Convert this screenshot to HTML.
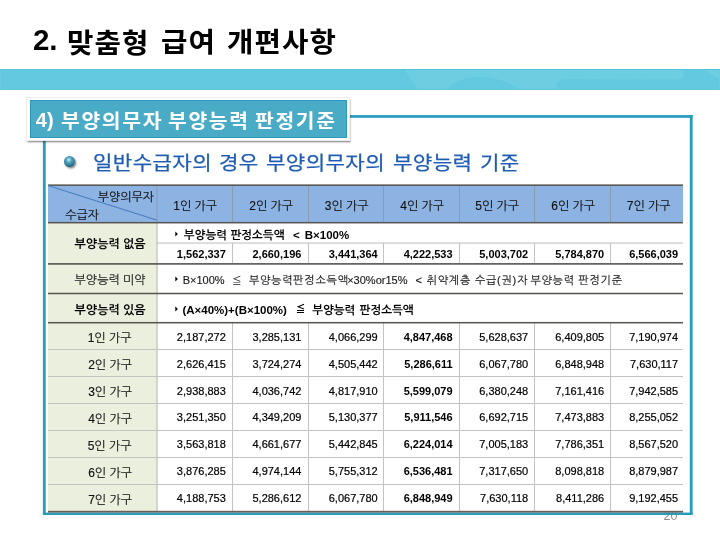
<!DOCTYPE html>
<html lang="ko"><head><meta charset="utf-8"><title>맞춤형 급여 개편사항</title>
<style>
*{margin:0;padding:0;box-sizing:border-box}
html,body{width:720px;height:540px;overflow:hidden;background:#fff}
body{position:relative;font-family:'Liberation Sans','Noto Sans CJK KR',sans-serif}
.ab{position:absolute}
.t{position:absolute;white-space:nowrap;line-height:1}
.n{position:absolute;white-space:nowrap;line-height:1;text-align:right;font-family:'Liberation Sans',sans-serif;font-size:11px;color:#000;-webkit-text-stroke:0.2px #000}
.s{-webkit-text-stroke:0.15px currentColor}
</style></head><body>

<svg class="ab" style="left:0;top:68.8px" width="720" height="20.8" viewBox="0 0 720 20.8"><rect x="0" y="0" width="720" height="20.8" fill="#63C9E0"/><path d="M404,0 C408,6 412,14 420,20.8 L446,20.8 C455,12 466,7.7 480,7.7 C495,7.7 510,13 519,20.8 L557,20.8 C556,14 557,10.5 566,10.2 L676,10.6 C684,10.6 686,5 683,0 Z" fill="#6DCEE2"/><path d="M703,0 L720,0 L720,11 Z" fill="#6DCEE2"/><rect x="0" y="0" width="720" height="1" fill="#52C3DC"/><rect x="0" y="19.8" width="720" height="1" fill="#5AC6DE"/></svg>
<div class="t" style="left:663.5px;top:509.5px;font-family:'Liberation Sans',sans-serif;font-size:12.5px;color:#8E8E8E">20</div>
<svg class="ab" style="left:0;top:0" width="720" height="540" viewBox="0 0 720 540"><rect x="42.9" y="115.1" width="649.7" height="2.7" fill="#279CBB"/><rect x="42.9" y="115.1" width="2.8" height="399.9" fill="#279CBB"/><rect x="689.8" y="115.1" width="2.8" height="399.9" fill="#279CBB"/><rect x="42.9" y="512.6" width="649.7" height="2.4" fill="#279CBB"/></svg>
<div class="ab" style="left:25.5px;top:96.8px;width:324.6px;height:44px;background:#fff;border:1px solid #ececec;box-shadow:1.2px 1.6px 1.6px rgba(0,0,0,0.38)"></div>
<div class="ab" style="left:29.9px;top:99.8px;width:317.3px;height:38.2px;background:#4AABC6;border:1px solid #2E9BBE"></div>
<div class="ab" style="left:64.2px;top:156.1px;width:11.3px;height:11.3px;border-radius:50%;background:radial-gradient(circle 7.8px at 4.8px 3.9px,#d4f8fc 0%,#8ad4e4 14%,#4f9fb8 38%,#3a8aa4 60%,#246d86 80%,#133e50 100%);box-shadow:1.4px 1.6px 1.8px rgba(0,0,0,0.45)"></div>
<div class="ab" style="left:48.00px;top:185.00px;width:635.00px;height:37.50px;background:#8DB3E2"></div>
<div class="ab" style="left:48.00px;top:223.00px;width:109.00px;height:288.00px;background:#EBEFDD"></div>
<svg class="ab" style="left:0;top:0" width="720" height="540" viewBox="0 0 720 540"><rect x="156.50" y="185.00" width="1.00" height="37.50" fill="#8A9BB3"/><rect x="232.00" y="185.00" width="1.00" height="37.50" fill="#8A9BB3"/><rect x="308.00" y="185.00" width="1.00" height="37.50" fill="#8A9BB3"/><rect x="383.00" y="185.00" width="1.00" height="37.50" fill="#8A9BB3"/><rect x="459.00" y="185.00" width="1.00" height="37.50" fill="#8A9BB3"/><rect x="534.00" y="185.00" width="1.00" height="37.50" fill="#8A9BB3"/><rect x="610.00" y="185.00" width="1.00" height="37.50" fill="#8A9BB3"/><rect x="156.30" y="223.00" width="1.40" height="288.00" fill="#C5C9BA"/><rect x="232.00" y="243.00" width="1.00" height="20.00" fill="#C3C3C3"/><rect x="232.00" y="323.00" width="1.00" height="188.00" fill="#C3C3C3"/><rect x="308.00" y="243.00" width="1.00" height="20.00" fill="#C3C3C3"/><rect x="308.00" y="323.00" width="1.00" height="188.00" fill="#C3C3C3"/><rect x="383.00" y="243.00" width="1.00" height="20.00" fill="#C3C3C3"/><rect x="383.00" y="323.00" width="1.00" height="188.00" fill="#C3C3C3"/><rect x="459.00" y="243.00" width="1.00" height="20.00" fill="#C3C3C3"/><rect x="459.00" y="323.00" width="1.00" height="188.00" fill="#C3C3C3"/><rect x="534.00" y="243.00" width="1.00" height="20.00" fill="#C3C3C3"/><rect x="534.00" y="323.00" width="1.00" height="188.00" fill="#C3C3C3"/><rect x="610.00" y="243.00" width="1.00" height="20.00" fill="#C3C3C3"/><rect x="610.00" y="323.00" width="1.00" height="188.00" fill="#C3C3C3"/><rect x="157.00" y="242.50" width="526.00" height="1.10" fill="#C3C3C3"/><rect x="48.00" y="349.00" width="635.00" height="1.00" fill="#C3C3C3"/><rect x="48.00" y="376.00" width="635.00" height="1.00" fill="#C3C3C3"/><rect x="48.00" y="403.00" width="635.00" height="1.00" fill="#C3C3C3"/><rect x="48.00" y="430.00" width="635.00" height="1.00" fill="#C3C3C3"/><rect x="48.00" y="457.00" width="635.00" height="1.00" fill="#C3C3C3"/><rect x="48.00" y="484.00" width="635.00" height="1.00" fill="#C3C3C3"/><rect x="48.00" y="184.40" width="635.00" height="1.50" fill="#57534F"/><rect x="48.00" y="221.95" width="635.00" height="1.50" fill="#57534F"/><rect x="48.00" y="263.10" width="635.00" height="1.60" fill="#57534F"/><rect x="48.00" y="292.75" width="635.00" height="1.50" fill="#57534F"/><rect x="48.00" y="321.95" width="635.00" height="1.50" fill="#57534F"/><rect x="48.00" y="510.80" width="635.00" height="1.80" fill="#6E5E59"/></svg>
<div class="ab" style="left:48.00px;top:185.20px;width:113.54px;height:1.3px;background:#4A7EC0;transform-origin:0 0;transform:rotate(17.637deg)"></div>
<div class="t" style="left:32.90px;top:24.70px;font-family:'Liberation Sans','Noto Sans CJK KR',sans-serif;font-size:29.5px;font-weight:700;color:#000">2.</div>
<div class="t" style="left:67.00px;top:30.00px;font-family:'Liberation Sans','Noto Sans CJK KR',sans-serif;font-size:27.5px;font-weight:700;letter-spacing:1.0px;transform:scaleX(1.045);transform-origin:0 0;color:#000">맞춤형</div>
<div class="t" style="left:160.90px;top:28.50px;font-family:'Liberation Sans','Noto Sans CJK KR',sans-serif;font-size:27.5px;font-weight:700;letter-spacing:1.0px;transform:scaleX(1.045);transform-origin:0 0;color:#000">급여</div>
<div class="t" style="left:226.90px;top:29.40px;font-family:'Liberation Sans','Noto Sans CJK KR',sans-serif;font-size:27.5px;font-weight:700;letter-spacing:1.0px;transform:scaleX(1.045);transform-origin:0 0;color:#000">개편사항</div>
<div class="t" style="left:35.80px;top:109.80px;font-family:'Liberation Sans','Noto Sans CJK KR',sans-serif;font-size:20px;font-weight:700;color:#fff">4)</div>
<div class="t" style="left:61.20px;top:112.10px;font-family:'Liberation Sans','Noto Sans CJK KR',sans-serif;font-size:19.5px;font-weight:700;letter-spacing:1.6px;transform:scaleX(1.045);transform-origin:0 0;color:#fff">부양의무자</div>
<div class="t" style="left:168.00px;top:112.10px;font-family:'Liberation Sans','Noto Sans CJK KR',sans-serif;font-size:19.5px;font-weight:700;letter-spacing:1.6px;transform:scaleX(1.045);transform-origin:0 0;color:#fff">부양능력</div>
<div class="t" style="left:255.30px;top:112.10px;font-family:'Liberation Sans','Noto Sans CJK KR',sans-serif;font-size:19.5px;font-weight:700;letter-spacing:1.6px;transform:scaleX(1.045);transform-origin:0 0;color:#fff">판정기준</div>
<div class="t" style="left:92.50px;top:155.00px;font-family:'Liberation Sans','Noto Sans CJK KR',sans-serif;font-size:18.9px;font-weight:400;letter-spacing:0.33px;transform:scaleX(1.12);transform-origin:0 0;-webkit-text-stroke:0.25px currentColor;color:#1F5DB4">일반수급자의</div>
<div class="t" style="left:219.00px;top:155.30px;font-family:'Liberation Sans','Noto Sans CJK KR',sans-serif;font-size:18.9px;font-weight:400;letter-spacing:0.33px;transform:scaleX(1.12);transform-origin:0 0;-webkit-text-stroke:0.25px currentColor;color:#1F5DB4">경우</div>
<div class="t" style="left:265.70px;top:155.00px;font-family:'Liberation Sans','Noto Sans CJK KR',sans-serif;font-size:18.9px;font-weight:400;letter-spacing:0.33px;transform:scaleX(1.12);transform-origin:0 0;-webkit-text-stroke:0.25px currentColor;color:#1F5DB4">부양의무자의</div>
<div class="t" style="left:393.40px;top:155.00px;font-family:'Liberation Sans','Noto Sans CJK KR',sans-serif;font-size:18.9px;font-weight:400;letter-spacing:0.33px;transform:scaleX(1.12);transform-origin:0 0;-webkit-text-stroke:0.25px currentColor;color:#1F5DB4">부양능력</div>
<div class="t" style="left:480.00px;top:155.00px;font-family:'Liberation Sans','Noto Sans CJK KR',sans-serif;font-size:18.9px;font-weight:400;letter-spacing:0.33px;transform:scaleX(1.12);transform-origin:0 0;-webkit-text-stroke:0.25px currentColor;color:#1F5DB4">기준</div>
<div class="t" style="left:97.70px;top:190.90px;font-family:'Liberation Sans','NanumGothic','Noto Sans CJK KR',sans-serif;font-size:12px;font-weight:400;-webkit-text-stroke:0.15px currentColor;color:#111">부양의무자</div>
<div class="t" style="left:65.30px;top:208.90px;font-family:'Liberation Sans','NanumGothic','Noto Sans CJK KR',sans-serif;font-size:12px;font-weight:400;-webkit-text-stroke:0.15px currentColor;color:#111">수급자</div>
<div class="t" style="left:173.25px;top:200.20px;font-family:'Liberation Sans','NanumGothic','Noto Sans CJK KR',sans-serif;font-size:12px;font-weight:400;-webkit-text-stroke:0.15px currentColor;color:#111">1인 가구</div>
<div class="t" style="left:249.25px;top:200.20px;font-family:'Liberation Sans','NanumGothic','Noto Sans CJK KR',sans-serif;font-size:12px;font-weight:400;-webkit-text-stroke:0.15px currentColor;color:#111">2인 가구</div>
<div class="t" style="left:324.75px;top:200.20px;font-family:'Liberation Sans','NanumGothic','Noto Sans CJK KR',sans-serif;font-size:12px;font-weight:400;-webkit-text-stroke:0.15px currentColor;color:#111">3인 가구</div>
<div class="t" style="left:400.25px;top:200.20px;font-family:'Liberation Sans','NanumGothic','Noto Sans CJK KR',sans-serif;font-size:12px;font-weight:400;-webkit-text-stroke:0.15px currentColor;color:#111">4인 가구</div>
<div class="t" style="left:475.25px;top:200.20px;font-family:'Liberation Sans','NanumGothic','Noto Sans CJK KR',sans-serif;font-size:12px;font-weight:400;-webkit-text-stroke:0.15px currentColor;color:#111">5인 가구</div>
<div class="t" style="left:551.25px;top:200.20px;font-family:'Liberation Sans','NanumGothic','Noto Sans CJK KR',sans-serif;font-size:12px;font-weight:400;-webkit-text-stroke:0.15px currentColor;color:#111">6인 가구</div>
<div class="t" style="left:626.75px;top:200.20px;font-family:'Liberation Sans','NanumGothic','Noto Sans CJK KR',sans-serif;font-size:12px;font-weight:400;-webkit-text-stroke:0.15px currentColor;color:#111">7인 가구</div>
<div class="t" style="left:74.60px;top:238.20px;font-family:'Liberation Sans','NanumGothic','Noto Sans CJK KR',sans-serif;font-size:12px;font-weight:700;color:#000">부양능력 없음</div>
<div class="t" style="left:74.60px;top:274.00px;font-family:'Liberation Sans','NanumGothic','Noto Sans CJK KR',sans-serif;font-size:12px;font-weight:400;-webkit-text-stroke:0.15px currentColor;color:#222">부양능력 미약</div>
<div class="t" style="left:74.60px;top:303.90px;font-family:'Liberation Sans','NanumGothic','Noto Sans CJK KR',sans-serif;font-size:12px;font-weight:700;color:#000">부양능력 있음</div>
<div class="t" style="left:87.70px;top:332.20px;font-family:'Liberation Sans','NanumGothic','Noto Sans CJK KR',sans-serif;font-size:12px;font-weight:400;-webkit-text-stroke:0.15px currentColor;color:#111">1인 가구</div>
<div class="t" style="left:88.20px;top:359.10px;font-family:'Liberation Sans','NanumGothic','Noto Sans CJK KR',sans-serif;font-size:12px;font-weight:400;-webkit-text-stroke:0.15px currentColor;color:#111">2인 가구</div>
<div class="t" style="left:88.20px;top:386.00px;font-family:'Liberation Sans','NanumGothic','Noto Sans CJK KR',sans-serif;font-size:12px;font-weight:400;-webkit-text-stroke:0.15px currentColor;color:#111">3인 가구</div>
<div class="t" style="left:88.20px;top:412.90px;font-family:'Liberation Sans','NanumGothic','Noto Sans CJK KR',sans-serif;font-size:12px;font-weight:400;-webkit-text-stroke:0.15px currentColor;color:#111">4인 가구</div>
<div class="t" style="left:87.70px;top:439.80px;font-family:'Liberation Sans','NanumGothic','Noto Sans CJK KR',sans-serif;font-size:12px;font-weight:400;-webkit-text-stroke:0.15px currentColor;color:#111">5인 가구</div>
<div class="t" style="left:88.20px;top:466.70px;font-family:'Liberation Sans','NanumGothic','Noto Sans CJK KR',sans-serif;font-size:12px;font-weight:400;-webkit-text-stroke:0.15px currentColor;color:#111">6인 가구</div>
<div class="t" style="left:88.20px;top:493.60px;font-family:'Liberation Sans','NanumGothic','Noto Sans CJK KR',sans-serif;font-size:12px;font-weight:400;-webkit-text-stroke:0.15px currentColor;color:#111">7인 가구</div>
<div class="t" style="left:183.80px;top:229.90px;font-family:'Liberation Sans','NanumGothic','Noto Sans CJK KR',sans-serif;font-size:11.5px;font-weight:700;color:#000">부양능력</div>
<div class="t" style="left:230.40px;top:229.90px;font-family:'Liberation Sans','NanumGothic','Noto Sans CJK KR',sans-serif;font-size:11.5px;font-weight:700;color:#000">판정소득액</div>
<div class="t" style="left:293.00px;top:229.90px;font-family:'Liberation Sans',sans-serif;font-size:11.5px;font-weight:700;color:#000">&lt;</div>
<div class="t" style="left:304.80px;top:229.90px;font-family:'Liberation Sans',sans-serif;font-size:11.5px;font-weight:700;color:#000">B×100%</div>
<div class="t" style="left:248.90px;top:275.20px;font-family:'Liberation Sans','NanumGothic','Noto Sans CJK KR',sans-serif;font-size:11px;font-weight:400;letter-spacing:0.75px;-webkit-text-stroke:0.15px currentColor;color:#1a1a1a">부양능력판정소득액</div>
<div class="t" style="left:347.20px;top:275.20px;font-family:'Liberation Sans',sans-serif;font-size:11px;font-weight:400;-webkit-text-stroke:0.15px currentColor;color:#1a1a1a">×30%or15%</div>
<div class="t" style="left:182.70px;top:275.20px;font-family:'Liberation Sans',sans-serif;font-size:11px;font-weight:400;-webkit-text-stroke:0.15px currentColor;color:#1a1a1a">B×100%</div>
<div class="t" style="left:232.00px;top:275.50px;font-family:'Liberation Sans','Noto Sans CJK KR',sans-serif;font-size:9.5px;font-weight:400;color:#1a1a1a">≦</div>
<div class="t" style="left:415.60px;top:275.20px;font-family:'Liberation Sans',sans-serif;font-size:11px;font-weight:400;-webkit-text-stroke:0.15px currentColor;color:#1a1a1a">&lt;</div>
<div class="t" style="left:426.70px;top:275.20px;font-family:'Liberation Sans','NanumGothic','Noto Sans CJK KR',sans-serif;font-size:11px;font-weight:400;letter-spacing:0.75px;-webkit-text-stroke:0.15px currentColor;color:#1a1a1a">취약계층</div>
<div class="t" style="left:474.90px;top:275.20px;font-family:'Liberation Sans','NanumGothic','Noto Sans CJK KR',sans-serif;font-size:11px;font-weight:400;letter-spacing:0.75px;-webkit-text-stroke:0.15px currentColor;color:#1a1a1a">수급(권)자</div>
<div class="t" style="left:530.40px;top:275.20px;font-family:'Liberation Sans','NanumGothic','Noto Sans CJK KR',sans-serif;font-size:11px;font-weight:400;letter-spacing:0.75px;-webkit-text-stroke:0.15px currentColor;color:#1a1a1a">부양능력</div>
<div class="t" style="left:578.40px;top:275.20px;font-family:'Liberation Sans','NanumGothic','Noto Sans CJK KR',sans-serif;font-size:11px;font-weight:400;letter-spacing:0.75px;-webkit-text-stroke:0.15px currentColor;color:#1a1a1a">판정기준</div>
<div class="t" style="left:312.20px;top:304.50px;font-family:'Liberation Sans','NanumGothic','Noto Sans CJK KR',sans-serif;font-size:11.5px;font-weight:700;color:#000">부양능력</div>
<div class="t" style="left:182.40px;top:304.50px;font-family:'Liberation Sans',sans-serif;font-size:11.5px;font-weight:700;color:#000">(A×40%)+(B×100%)</div>
<div class="t" style="left:295.70px;top:304.00px;font-family:'Liberation Sans','Noto Sans CJK KR',sans-serif;font-size:9.5px;font-weight:700;color:#000">≦</div>
<div class="t" style="left:359.60px;top:304.50px;font-family:'Liberation Sans','NanumGothic','Noto Sans CJK KR',sans-serif;font-size:11.5px;font-weight:700;color:#000">판정소득액</div>
<svg class="ab" style="left:175px;top:230.60px" width="4" height="6" viewBox="0 0 4 6"><path d="M0.3,0.6 L2.9,3 L0.3,5.4 Z" fill="#000"/></svg>
<svg class="ab" style="left:175px;top:276.30px" width="4" height="6" viewBox="0 0 4 6"><path d="M0.3,0.6 L2.9,3 L0.3,5.4 Z" fill="#000"/></svg>
<svg class="ab" style="left:175px;top:305.80px" width="4" height="6" viewBox="0 0 4 6"><path d="M0.3,0.6 L2.9,3 L0.3,5.4 Z" fill="#000"/></svg>
<div class="n" style="left:155.80px;top:249.10px;width:70px;font-weight:700;color:#000;-webkit-text-stroke:0">1,562,337</div>
<div class="n" style="left:231.40px;top:249.10px;width:70px;font-weight:700;color:#000;-webkit-text-stroke:0">2,660,196</div>
<div class="n" style="left:307.70px;top:249.10px;width:70px;font-weight:700;color:#000;-webkit-text-stroke:0">3,441,364</div>
<div class="n" style="left:382.60px;top:249.10px;width:70px;font-weight:700;color:#000;-webkit-text-stroke:0">4,222,533</div>
<div class="n" style="left:458.20px;top:249.10px;width:70px;font-weight:700;color:#000;-webkit-text-stroke:0">5,003,702</div>
<div class="n" style="left:534.20px;top:249.10px;width:70px;font-weight:700;color:#000;-webkit-text-stroke:0">5,784,870</div>
<div class="n" style="left:608.10px;top:249.10px;width:70px;font-weight:700;color:#000;-webkit-text-stroke:0">6,566,039</div>
<div class="n" style="left:155.80px;top:331.70px;width:70px;">2,187,272</div>
<div class="n" style="left:231.40px;top:331.70px;width:70px;">3,285,131</div>
<div class="n" style="left:307.70px;top:331.70px;width:70px;">4,066,299</div>
<div class="n" style="left:382.60px;top:331.70px;width:70px;font-weight:700;color:#000;-webkit-text-stroke:0">4,847,468</div>
<div class="n" style="left:458.20px;top:331.70px;width:70px;">5,628,637</div>
<div class="n" style="left:534.20px;top:331.70px;width:70px;">6,409,805</div>
<div class="n" style="left:608.10px;top:331.70px;width:70px;">7,190,974</div>
<div class="n" style="left:155.80px;top:358.60px;width:70px;">2,626,415</div>
<div class="n" style="left:231.40px;top:358.60px;width:70px;">3,724,274</div>
<div class="n" style="left:307.70px;top:358.60px;width:70px;">4,505,442</div>
<div class="n" style="left:382.60px;top:358.60px;width:70px;font-weight:700;color:#000;-webkit-text-stroke:0">5,286,611</div>
<div class="n" style="left:458.20px;top:358.60px;width:70px;">6,067,780</div>
<div class="n" style="left:534.20px;top:358.60px;width:70px;">6,848,948</div>
<div class="n" style="left:608.10px;top:358.60px;width:70px;">7,630,117</div>
<div class="n" style="left:155.80px;top:385.50px;width:70px;">2,938,883</div>
<div class="n" style="left:231.40px;top:385.50px;width:70px;">4,036,742</div>
<div class="n" style="left:307.70px;top:385.50px;width:70px;">4,817,910</div>
<div class="n" style="left:382.60px;top:385.50px;width:70px;font-weight:700;color:#000;-webkit-text-stroke:0">5,599,079</div>
<div class="n" style="left:458.20px;top:385.50px;width:70px;">6,380,248</div>
<div class="n" style="left:534.20px;top:385.50px;width:70px;">7,161,416</div>
<div class="n" style="left:608.10px;top:385.50px;width:70px;">7,942,585</div>
<div class="n" style="left:155.80px;top:412.40px;width:70px;">3,251,350</div>
<div class="n" style="left:231.40px;top:412.40px;width:70px;">4,349,209</div>
<div class="n" style="left:307.70px;top:412.40px;width:70px;">5,130,377</div>
<div class="n" style="left:382.60px;top:412.40px;width:70px;font-weight:700;color:#000;-webkit-text-stroke:0">5,911,546</div>
<div class="n" style="left:458.20px;top:412.40px;width:70px;">6,692,715</div>
<div class="n" style="left:534.20px;top:412.40px;width:70px;">7,473,883</div>
<div class="n" style="left:608.10px;top:412.40px;width:70px;">8,255,052</div>
<div class="n" style="left:155.80px;top:439.30px;width:70px;">3,563,818</div>
<div class="n" style="left:231.40px;top:439.30px;width:70px;">4,661,677</div>
<div class="n" style="left:307.70px;top:439.30px;width:70px;">5,442,845</div>
<div class="n" style="left:382.60px;top:439.30px;width:70px;font-weight:700;color:#000;-webkit-text-stroke:0">6,224,014</div>
<div class="n" style="left:458.20px;top:439.30px;width:70px;">7,005,183</div>
<div class="n" style="left:534.20px;top:439.30px;width:70px;">7,786,351</div>
<div class="n" style="left:608.10px;top:439.30px;width:70px;">8,567,520</div>
<div class="n" style="left:155.80px;top:466.20px;width:70px;">3,876,285</div>
<div class="n" style="left:231.40px;top:466.20px;width:70px;">4,974,144</div>
<div class="n" style="left:307.70px;top:466.20px;width:70px;">5,755,312</div>
<div class="n" style="left:382.60px;top:466.20px;width:70px;font-weight:700;color:#000;-webkit-text-stroke:0">6,536,481</div>
<div class="n" style="left:458.20px;top:466.20px;width:70px;">7,317,650</div>
<div class="n" style="left:534.20px;top:466.20px;width:70px;">8,098,818</div>
<div class="n" style="left:608.10px;top:466.20px;width:70px;">8,879,987</div>
<div class="n" style="left:155.80px;top:493.10px;width:70px;">4,188,753</div>
<div class="n" style="left:231.40px;top:493.10px;width:70px;">5,286,612</div>
<div class="n" style="left:307.70px;top:493.10px;width:70px;">6,067,780</div>
<div class="n" style="left:382.60px;top:493.10px;width:70px;font-weight:700;color:#000;-webkit-text-stroke:0">6,848,949</div>
<div class="n" style="left:458.20px;top:493.10px;width:70px;">7,630,118</div>
<div class="n" style="left:534.20px;top:493.10px;width:70px;">8,411,286</div>
<div class="n" style="left:608.10px;top:493.10px;width:70px;">9,192,455</div>
</body></html>
